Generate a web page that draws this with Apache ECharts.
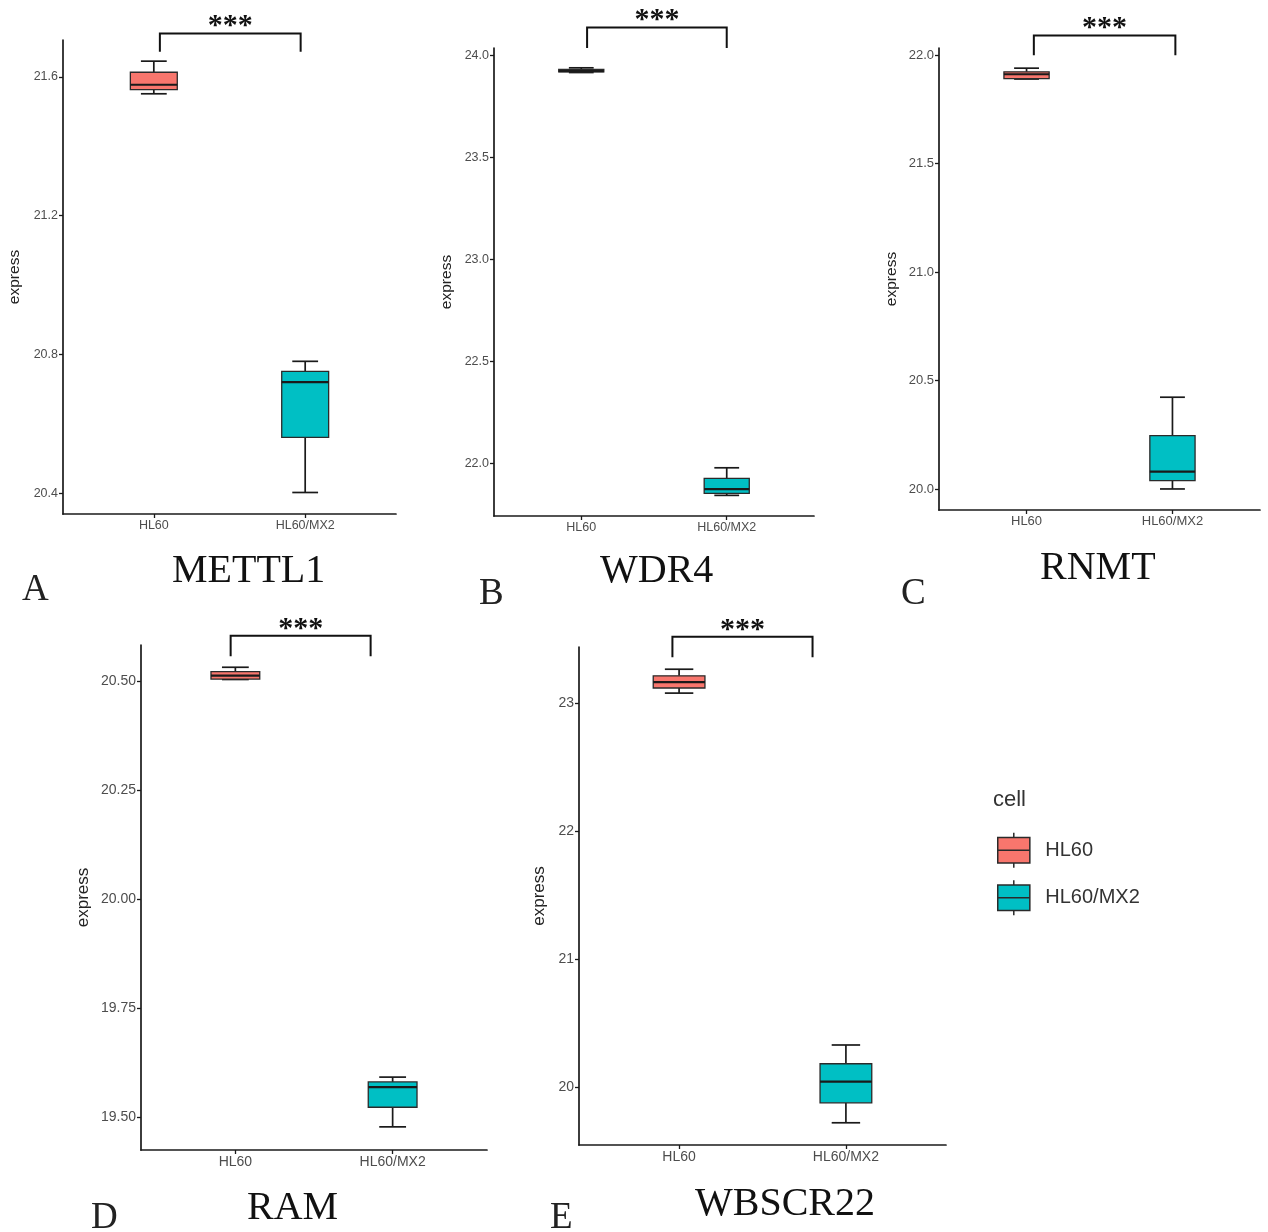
<!DOCTYPE html>
<html>
<head>
<meta charset="utf-8">
<script src="https://cdn.jsdelivr.net/npm/echarts@6/dist/echarts.min.js"></script>
<style>
  html, body { margin: 0; padding: 0; background: #fff; }
  #chart { width: 1268px; height: 1232px; }
</style>
</head>
<body>
<div id="chart"></div>
<script>
// x categories (groups)
const cells = ['HL60', 'HL60/MX2']
const genes = ['METTL1', 'WDR4', 'RNMT', 'RAM', 'WBSCR22']
const panelLetters = ['A', 'B', 'C', 'D', 'E']

// box stats for each gene: [min, Q1, median, Q3, max]
const hl60Boxes = [
  [21.551, 21.563, 21.577, 21.613, 21.645],
  [23.915, 23.918, 23.922, 23.930, 23.938],
  [21.890, 21.892, 21.912, 21.923, 21.940],
  [20.503, 20.504, 20.512, 20.521, 20.531],
  [23.082, 23.122, 23.168, 23.217, 23.269]
]
const mx2Boxes = [
  [20.402, 20.561, 20.720, 20.751, 20.780],
  [21.845, 21.855, 21.876, 21.928, 21.980],
  [20.000, 20.038, 20.080, 20.246, 20.423],
  [19.478, 19.523, 19.569, 19.581, 19.592],
  [19.718, 19.874, 20.040, 20.180, 20.327]
]

// y tick labels per panel
const yTickLabels = [
  ['20.4', '20.8', '21.2', '21.6'],
  ['22.0', '22.5', '23.0', '23.5', '24.0'],
  ['20.0', '20.5', '21.0', '21.5', '22.0'],
  ['19.50', '19.75', '20.00', '20.25', '20.50'],
  ['20', '21', '22', '23']
]
// y axis range per panel
const yRanges = [
  [20.34, 21.706],
  [21.744, 24.035],
  [19.903, 22.033],
  [19.425, 20.582],
  [19.544, 23.443]
]
// significance brackets: [x start, x end, bar level, tip level]
const sigBrackets = [
  [1.04, 1.97, 21.725, 21.672],
  [1.04, 2.00, 24.135, 24.035],
  [1.05, 2.02, 22.091, 22.0],
  [0.97, 1.86, 20.603, 20.556],
  [0.96, 1.80, 23.523, 23.362]
]
const sigLabel = '***'

// layout (pixels)
const grids = [
  { left: 63, top: 40, width: 333, height: 474 },
  { left: 494, top: 48, width: 320, height: 468 },
  { left: 939, top: 48, width: 321, height: 462 },
  { left: 141, top: 645, width: 346, height: 505 },
  { left: 579, top: 647, width: 367, height: 498 }
]
const nameGaps = [40, 39, 39, 49, 31]
const tickFontSizes = [12.5, 12.5, 13, 14, 14]
const nameFontSizes = [15.5, 15.5, 15.5, 17, 17]
const geneTitlePos = [[172, 551], [600, 551], [1040, 548], [247, 1188], [695, 1184]]
const letterPos = [[22, 572], [479, 576], [901, 576], [91, 1200], [550, 1200]]

const fills = ['#F8766D', '#00BFC4']
const boxWidth = 0.31
const axisColor = '#1a1a1a'

const chart = echarts.init(document.getElementById('chart'))

function renderBox(params, api) {
  const x = api.value(0)
  const lo = api.coord([x, api.value(1)])
  const q1 = api.coord([x, api.value(2)])
  const med = api.coord([x, api.value(3)])
  const q3 = api.coord([x, api.value(4)])
  const hi = api.coord([x, api.value(5)])
  const half = api.size([boxWidth, 0])[0] / 2
  const cap = half * 0.55
  const cx = lo[0]
  const line = (x1, y1, x2, y2, w) => ({
    type: 'line',
    shape: { x1, y1, x2, y2 },
    style: { stroke: '#1a1a1a', lineWidth: w }
  })
  return {
    type: 'group',
    children: [
      line(cx, hi[1], cx, q3[1], 1.7),
      line(cx, q1[1], cx, lo[1], 1.7),
      line(cx - cap, hi[1], cx + cap, hi[1], 1.7),
      line(cx - cap, lo[1], cx + cap, lo[1], 1.7),
      {
        type: 'rect',
        shape: { x: cx - half, y: q3[1], width: half * 2, height: Math.max(q1[1] - q3[1], 1) },
        style: { fill: api.visual('color'), stroke: '#2a2a2a', lineWidth: 1.3 }
      },
      line(cx - half, med[1], cx + half, med[1], 2.2)
    ]
  }
}

function renderBracket(params, api) {
  const a = api.coord([api.value(0), api.value(3)])
  const b = api.coord([api.value(0), api.value(2)])
  const c = api.coord([api.value(1), api.value(2)])
  const d = api.coord([api.value(1), api.value(3)])
  return {
    type: 'group',
    children: [
      {
        type: 'polyline',
        shape: { points: [a, b, c, d] },
        style: { stroke: '#111', lineWidth: 2, fill: null }
      },
      {
        type: 'text',
        x: (b[0] + c[0]) / 2,
        y: b[1] + 8,
        style: {
          text: sigLabel,
          fill: '#111',
          font: 'bold 30px "Liberation Serif"',
          textAlign: 'center',
          textVerticalAlign: 'bottom'
        }
      }
    ]
  }
}

const xAxes = genes.map((g, i) => ({
  type: 'value',
  gridIndex: i,
  min: 0.4,
  max: 2.6,
  splitLine: { show: false },
  axisLine: { show: true, lineStyle: { color: axisColor, width: 1.7 } },
  axisTick: { show: true, customValues: [1, 2], length: 4, lineStyle: { color: axisColor, width: 1.3 } },
  axisLabel: {
    customValues: [1, 2],
    formatter: (v) => cells[Math.round(v) - 1],
    color: '#4d4d4d',
    fontSize: tickFontSizes[i],
    margin: 5
  }
}))

const yAxes = genes.map((g, i) => {
  const ticks = yTickLabels[i].map(Number)
  return {
    type: 'value',
    gridIndex: i,
    min: yRanges[i][0],
    max: yRanges[i][1],
    name: 'express',
    nameLocation: 'middle',
    nameGap: nameGaps[i],
    nameTextStyle: { fontSize: nameFontSizes[i], color: '#222' },
    splitLine: { show: false },
    axisLine: { show: true, lineStyle: { color: axisColor, width: 1.7 } },
    axisTick: { show: true, customValues: ticks, length: 4, lineStyle: { color: axisColor, width: 1.3 } },
    axisLabel: {
      customValues: ticks,
      formatter: (v) => {
        const k = ticks.findIndex((t) => Math.abs(t - v) < 1e-6)
        return k >= 0 ? yTickLabels[i][k] : ''
      },
      color: '#4d4d4d',
      fontSize: tickFontSizes[i],
      margin: 5
    }
  }
})

const series = []
genes.forEach((g, i) => {
  [hl60Boxes, mx2Boxes].forEach((boxes, j) => {
    series.push({
      type: 'custom',
      name: cells[j],
      xAxisIndex: i,
      yAxisIndex: i,
      clip: false,
      itemStyle: { color: fills[j], borderColor: '#2a2a2a' },
      encode: { x: 0, y: [1, 2, 3, 4, 5] },
      renderItem: renderBox,
      data: [[j + 1].concat(boxes[i])]
    })
  })
  series.push({
    type: 'custom',
    name: 'sig-' + g,
    xAxisIndex: i,
    yAxisIndex: i,
    clip: false,
    encode: { x: [0, 1], y: [2, 3] },
    renderItem: renderBracket,
    data: [sigBrackets[i]]
  })
})

const titles = []
genes.forEach((g, i) => {
  titles.push({
    text: g,
    left: geneTitlePos[i][0],
    top: geneTitlePos[i][1],
    padding: 0,
    textStyle: { fontFamily: 'Liberation Serif', fontSize: 40, fontWeight: 'normal', color: '#111' }
  })
  titles.push({
    text: panelLetters[i],
    left: letterPos[i][0],
    top: letterPos[i][1],
    padding: 0,
    textStyle: { fontFamily: 'Liberation Serif', fontSize: 37, fontWeight: 'normal', color: '#222' }
  })
})
titles.push({
  text: 'cell',
  left: 993,
  top: 789,
  padding: 0,
  textStyle: { fontFamily: 'Liberation Sans', fontSize: 22, fontWeight: 'normal', color: '#333' }
})

const legendIcon = 'path://M0,5H33V31H0Z M16.5,0V5 M16.5,31V36 M0,18H33'

chart.setOption({
  animation: false,
  textStyle: { fontFamily: 'Liberation Sans' },
  title: titles,
  grid: grids,
  xAxis: xAxes,
  yAxis: yAxes,
  legend: {
    orient: 'vertical',
    left: 997,
    top: 832,
    padding: 0,
    itemWidth: 33,
    itemHeight: 35,
    itemGap: 11,
    selectedMode: false,
    icon: legendIcon,
    itemStyle: { borderColor: '#2a2a2a', borderWidth: 1.5 },
    textStyle: { fontSize: 20, color: '#333', padding: [0, 0, 0, 10] },
    data: cells
  },
  series
})
</script>
</body>
</html>
